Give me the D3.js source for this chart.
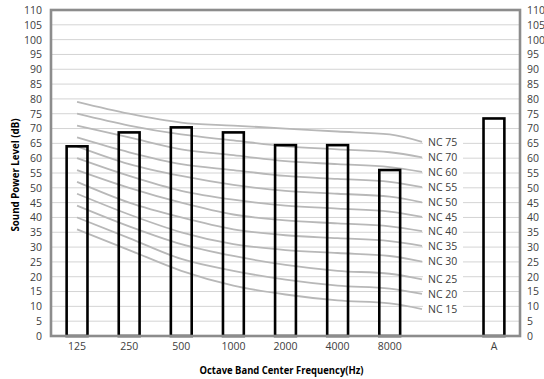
<!DOCTYPE html>
<html>
<head>
<meta charset="utf-8">
<script src="https://cdn.jsdelivr.net/npm/d3@7"></script>
<style>
  html, body { margin: 0; padding: 0; background: #fff; }
  svg { display: block; font-family: "Open Sans", "Noto Sans", sans-serif; }
</style>
</head>
<body>
<svg id="chart" width="544" height="379"></svg>
<script>
// ---- data ----
const categories = ["125", "250", "500", "1000", "2000", "4000", "8000", "", "A"];
const barValues = [64, 68.7, 70.4, 68.7, 64.4, 64.4, 56, null, 73.4];
const ncFrequencies = ["125", "250", "500", "1000", "2000", "4000", "8000"];
const ncLabels = ["NC 75", "NC 70", "NC 60", "NC 55", "NC 50", "NC 45", "NC 40", "NC 35", "NC 30", "NC 25", "NC 20", "NC 15"];
const ncCurves = [
  [79, 75, 72, 71, 70, 69, 68],
  [75, 71, 68, 66, 64, 63, 62],
  [71, 67, 63, 61, 59, 58, 57],
  [67, 62, 58, 56, 54, 53, 52],
  [64, 58, 54, 51, 49, 48, 47],
  [60, 54, 49, 46, 44, 43, 42],
  [56, 50, 45, 41, 39, 38, 37],
  [52, 45, 40, 36, 34, 33, 32],
  [48, 41, 35, 31, 29, 28, 27],
  [44, 37, 31, 27, 24, 22, 21],
  [40, 33, 26, 22, 19, 17, 16],
  [36, 29, 22, 17, 14, 12, 11]
];
const ncLabelValues = [65.5, 60.3, 55.4, 50.2, 45.1, 40.2, 35.4, 30.4, 25.1, 19.1, 14.2, 9.1];
const yTicks = d3.range(0, 111, 5);
const yTitle = "Sound Power Level (dB)";
const xTitle = "Octave Band Center Frequency(Hz)";

// ---- layout ----
const svg = d3.select("#chart");
const mLeft = 51, mRight = 520, mTop = 10, mBottom = 336;
const labelX = 422; // where curves meet their labels

const x = d3.scaleBand().domain(categories).range([mLeft, mRight])
  .paddingInner(0.6).paddingOuter(0.3);
const y = d3.scaleLinear().domain([0, 110]).range([mBottom, mTop]);

// gridlines
svg.append("g")
  .selectAll("line").data(yTicks.filter(d => d > 0 && d < 110)).join("line")
  .attr("x1", mLeft).attr("x2", mRight)
  .attr("y1", d => y(d)).attr("y2", d => y(d))
  .attr("stroke", "#d4d4d4").attr("stroke-width", 1);

// NC curves
const line = d3.line().x(d => d[0]).y(d => y(d[1])).curve(d3.curveMonotoneX);
svg.append("g")
  .selectAll("path").data(ncCurves.map((c, i) => {
    const pts = c.map((v, j) => [x(ncFrequencies[j]) + x.bandwidth() / 2, v]);
    pts.push([labelX, ncLabelValues[i]]);
    return pts;
  })).join("path")
  .attr("d", line)
  .attr("fill", "none")
  .attr("stroke", "#b8b8b8")
  .attr("stroke-width", 1.8);

// NC labels
const lab = svg.append("g").selectAll("g").data(ncLabels).join("g")
  .attr("transform", (d, i) => `translate(${labelX},${y(ncLabelValues[i])})`);
lab.append("rect").attr("x", 1).attr("y", -6.5).attr("width", 40).attr("height", 13).attr("fill", "#fff");
lab.append("text").attr("x", 6).attr("dy", "0.35em")
  .attr("font-size", 10.5).attr("fill", "#404040").text(d => d);

// bars
svg.append("g")
  .selectAll("rect").data(categories.map((c, i) => ({ c, v: barValues[i] })).filter(d => d.v != null)).join("rect")
  .attr("x", d => x(d.c)).attr("width", x.bandwidth())
  .attr("y", d => y(d.v)).attr("height", d => y(0) - y(d.v))
  .attr("fill", "none").attr("stroke", "#000").attr("stroke-width", 2.6);

// frame
svg.append("rect")
  .attr("x", mLeft).attr("y", mTop).attr("width", mRight - mLeft).attr("height", mBottom - mTop)
  .attr("fill", "none").attr("stroke", "#8c8c8c").attr("stroke-width", 2.6);

// axes
const yAxisL = svg.append("g").attr("transform", `translate(${mLeft - 9},0)`)
  .call(d3.axisLeft(y).tickValues(yTicks).tickSize(0).tickPadding(0));
const yAxisR = svg.append("g").attr("transform", `translate(${mRight + 7},0)`)
  .call(d3.axisRight(y).tickValues(yTicks).tickSize(0).tickPadding(0));
const xAxis = svg.append("g").attr("transform", `translate(0,${mBottom + 4})`)
  .call(d3.axisBottom(x).tickSize(0).tickPadding(0));
[yAxisL, yAxisR, xAxis].forEach(g => {
  g.select(".domain").remove();
  g.selectAll("text").attr("font-size", 10.5).attr("fill", "#404040")
    .attr("font-family", "'Open Sans', sans-serif");
});
xAxis.selectAll("text").attr("dy", "0.95em");

// titles
svg.append("text")
  .attr("x", (mLeft + mRight) / 2 - 4).attr("y", 374)
  .attr("text-anchor", "middle").attr("font-size", 10.5).attr("font-weight", "bold")
  .attr("fill", "#000")
  .attr("textLength", 164).attr("lengthAdjust", "spacingAndGlyphs")
  .text(xTitle);
svg.append("text")
  .attr("transform", `translate(19,${(mTop + mBottom) / 2 + 2}) rotate(-90)`)
  .attr("text-anchor", "middle").attr("font-size", 10.5).attr("font-weight", "bold")
  .attr("fill", "#000")
  .attr("textLength", 113).attr("lengthAdjust", "spacingAndGlyphs")
  .text(yTitle);
</script>
</body>
</html>
